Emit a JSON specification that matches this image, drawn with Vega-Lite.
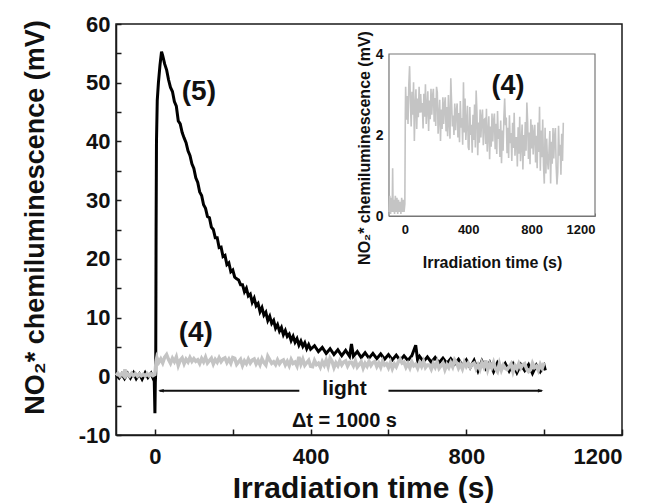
{
 "$schema": "https://vega.github.io/schema/vega-lite/v6.json",
 "width": 506,
 "height": 411,
 "autosize": {"type": "none"},
 "padding": {"left": 116, "top": 24, "right": 28, "bottom": 68},
 "background": "white",
 "config": {"view": {"stroke": "#1a1a1a", "strokeWidth": 1.5}, "font": "Liberation Sans"},
 "datasets": {
  "s5": [
   {"t": -100, "v": 0.3}, {"t": -92, "v": -0.3}, {"t": -85, "v": 0.4}, {"t": -78, "v": -0.4}, {"t": -70, "v": 0.5},
   {"t": -63, "v": -0.3}, {"t": -55, "v": 0.6}, {"t": -48, "v": -0.4}, {"t": -40, "v": 0.4}, {"t": -33, "v": -0.5},
   {"t": -25, "v": 0.6}, {"t": -18, "v": -0.2}, {"t": -10, "v": 0.5}, {"t": -5, "v": -0.3}, {"t": -2, "v": 0.2},
   {"t": 0, "v": -6.3}, {"t": 1, "v": -1}, {"t": 2, "v": 0.5}, {"t": 3, "v": 25}, {"t": 4, "v": 40},
   {"t": 6, "v": 47}, {"t": 9, "v": 50}, {"t": 13, "v": 53}, {"t": 17, "v": 55.3}, {"t": 20, "v": 54.6},
   {"t": 25, "v": 53.2}, {"t": 30, "v": 52.2}, {"t": 35, "v": 50.5}, {"t": 40, "v": 49.2}, {"t": 45, "v": 48.5},
   {"t": 50, "v": 46.8}, {"t": 55, "v": 46.0}, {"t": 60, "v": 43.5}, {"t": 65, "v": 43.0}, {"t": 70, "v": 41.5},
   {"t": 75, "v": 40.6}, {"t": 80, "v": 39.8}, {"t": 85, "v": 38.4}, {"t": 90, "v": 37.6}, {"t": 95, "v": 36.2},
   {"t": 100, "v": 35.4}, {"t": 105, "v": 33.8}, {"t": 110, "v": 33.0}, {"t": 115, "v": 31.4}, {"t": 120, "v": 30.8},
   {"t": 125, "v": 29.2}, {"t": 130, "v": 28.6}, {"t": 135, "v": 27.2}, {"t": 140, "v": 27.0}, {"t": 145, "v": 25.4},
   {"t": 150, "v": 25.0}, {"t": 155, "v": 23.6}, {"t": 160, "v": 23.6}, {"t": 165, "v": 21.9}, {"t": 170, "v": 22.0},
   {"t": 175, "v": 20.4}, {"t": 180, "v": 20.6}, {"t": 185, "v": 19.0}, {"t": 190, "v": 19.3}, {"t": 195, "v": 17.8},
   {"t": 200, "v": 18.1}, {"t": 205, "v": 16.9}, {"t": 210, "v": 16.6}, {"t": 215, "v": 16.4}, {"t": 220, "v": 15.6},
   {"t": 225, "v": 15.6}, {"t": 230, "v": 14.4}, {"t": 235, "v": 15.0}, {"t": 240, "v": 13.7}, {"t": 245, "v": 14.0},
   {"t": 250, "v": 12.6}, {"t": 255, "v": 13.3}, {"t": 260, "v": 12.0}, {"t": 265, "v": 12.4}, {"t": 270, "v": 11.0},
   {"t": 275, "v": 11.7}, {"t": 280, "v": 10.4}, {"t": 285, "v": 10.9}, {"t": 290, "v": 9.5}, {"t": 295, "v": 10.2},
   {"t": 300, "v": 9.0}, {"t": 305, "v": 9.5}, {"t": 310, "v": 8.2}, {"t": 315, "v": 8.8}, {"t": 320, "v": 7.7},
   {"t": 325, "v": 8.3}, {"t": 330, "v": 7.1}, {"t": 335, "v": 7.8}, {"t": 340, "v": 6.8}, {"t": 345, "v": 7.2},
   {"t": 350, "v": 6.1}, {"t": 355, "v": 6.8}, {"t": 360, "v": 5.8}, {"t": 365, "v": 6.4}, {"t": 370, "v": 5.3},
   {"t": 375, "v": 6.0}, {"t": 380, "v": 5.1}, {"t": 385, "v": 5.7}, {"t": 390, "v": 4.7}, {"t": 395, "v": 5.4},
   {"t": 400, "v": 4.6}, {"t": 410, "v": 5.2}, {"t": 420, "v": 4.2}, {"t": 430, "v": 4.9}, {"t": 440, "v": 3.9},
   {"t": 450, "v": 4.7}, {"t": 460, "v": 3.7}, {"t": 470, "v": 4.5}, {"t": 480, "v": 3.5}, {"t": 490, "v": 4.4},
   {"t": 500, "v": 3.4}, {"t": 505, "v": 5.5}, {"t": 510, "v": 3.4}, {"t": 520, "v": 4.2}, {"t": 530, "v": 3.2},
   {"t": 540, "v": 4.0}, {"t": 550, "v": 3.1}, {"t": 560, "v": 3.9}, {"t": 570, "v": 3.0}, {"t": 580, "v": 3.8},
   {"t": 590, "v": 2.9}, {"t": 600, "v": 3.7}, {"t": 610, "v": 2.8}, {"t": 620, "v": 3.6}, {"t": 630, "v": 2.7},
   {"t": 640, "v": 3.5}, {"t": 650, "v": 2.7}, {"t": 660, "v": 3.5}, {"t": 670, "v": 5.3}, {"t": 675, "v": 2.7},
   {"t": 680, "v": 3.4}, {"t": 690, "v": 2.5}, {"t": 700, "v": 3.3}, {"t": 710, "v": 2.4}, {"t": 720, "v": 3.2},
   {"t": 730, "v": 2.3}, {"t": 740, "v": 3.1}, {"t": 750, "v": 2.2}, {"t": 760, "v": 3.0}, {"t": 770, "v": 2.1},
   {"t": 780, "v": 2.9}, {"t": 790, "v": 1.8}, {"t": 800, "v": 2.8}, {"t": 810, "v": 1.5}, {"t": 820, "v": 2.7},
   {"t": 830, "v": 0.9}, {"t": 840, "v": 2.6}, {"t": 850, "v": 1.3}, {"t": 860, "v": 2.4}, {"t": 870, "v": 0.8},
   {"t": 880, "v": 2.3}, {"t": 890, "v": 1.2}, {"t": 900, "v": 2.2}, {"t": 910, "v": 0.9}, {"t": 920, "v": 2.1},
   {"t": 930, "v": 0.6}, {"t": 940, "v": 2.0}, {"t": 950, "v": 1.0}, {"t": 960, "v": 2.0}, {"t": 970, "v": 0.5},
   {"t": 980, "v": 1.9}, {"t": 990, "v": 0.8}, {"t": 1000, "v": 1.8}, {"t": 1003, "v": 1.0}
  ],
  "s4": [
   {"t": -100, "v": 0.1}, {"t": -95, "v": 0.5}, {"t": -90, "v": 0.05}, {"t": -85, "v": 0.45}, {"t": -80, "v": 0.1},
   {"t": -77, "v": 1.18}, {"t": -74, "v": 0.1}, {"t": -70, "v": 0.4}, {"t": -65, "v": 0.05}, {"t": -60, "v": 0.5},
   {"t": -55, "v": 0.1}, {"t": -50, "v": 0.45}, {"t": -45, "v": 0.05}, {"t": -40, "v": 0.4}, {"t": -35, "v": 0.1},
   {"t": -30, "v": 0.35}, {"t": -25, "v": 0.05}, {"t": -20, "v": 0.45}, {"t": -15, "v": 0.1}, {"t": -10, "v": 0.4},
   {"t": -5, "v": 0.1}, {"t": 0, "v": 0.3}, {"t": 3, "v": 2.5},
   {"t": 5, "v": 3.19}, {"t": 10, "v": 2.38}, {"t": 15, "v": 2.96}, {"t": 20, "v": 2.27}, {"t": 25, "v": 3.24},
   {"t": 30, "v": 3.7}, {"t": 35, "v": 2.84}, {"t": 40, "v": 2.21}, {"t": 45, "v": 3.07}, {"t": 50, "v": 2.5},
   {"t": 55, "v": 3.3}, {"t": 60, "v": 1.85}, {"t": 65, "v": 2.73}, {"t": 70, "v": 3.13}, {"t": 75, "v": 2.15},
   {"t": 80, "v": 2.9}, {"t": 85, "v": 2.44}, {"t": 90, "v": 3.19}, {"t": 95, "v": 2.55}, {"t": 100, "v": 3.01},
   {"t": 105, "v": 2.56}, {"t": 110, "v": 2.79}, {"t": 115, "v": 2.16}, {"t": 120, "v": 3.02}, {"t": 125, "v": 2.45},
   {"t": 130, "v": 3.25}, {"t": 135, "v": 2.27}, {"t": 140, "v": 2.68}, {"t": 145, "v": 3.08}, {"t": 150, "v": 2.1},
   {"t": 155, "v": 2.85}, {"t": 160, "v": 2.39}, {"t": 165, "v": 3.14}, {"t": 170, "v": 2.5}, {"t": 175, "v": 2.96},
   {"t": 180, "v": 3.14}, {"t": 185, "v": 2.33}, {"t": 190, "v": 2.91}, {"t": 195, "v": 2.22}, {"t": 200, "v": 3.19},
   {"t": 205, "v": 3.05}, {"t": 210, "v": 2.03}, {"t": 215, "v": 2.45}, {"t": 220, "v": 2.87}, {"t": 225, "v": 1.85},
   {"t": 230, "v": 2.63}, {"t": 235, "v": 2.15}, {"t": 240, "v": 2.93}, {"t": 245, "v": 2.27}, {"t": 250, "v": 2.75},
   {"t": 255, "v": 2.93}, {"t": 260, "v": 2.09}, {"t": 265, "v": 2.69}, {"t": 270, "v": 1.97}, {"t": 275, "v": 2.99},
   {"t": 280, "v": 2.33}, {"t": 285, "v": 1.91}, {"t": 290, "v": 3.4}, {"t": 295, "v": 2.81}, {"t": 300, "v": 2.21},
   {"t": 305, "v": 2.48}, {"t": 310, "v": 2.0}, {"t": 315, "v": 2.78}, {"t": 320, "v": 2.12}, {"t": 325, "v": 2.6},
   {"t": 330, "v": 2.78}, {"t": 335, "v": 1.94}, {"t": 340, "v": 2.54}, {"t": 345, "v": 1.82}, {"t": 350, "v": 2.84},
   {"t": 355, "v": 2.18}, {"t": 360, "v": 2.42}, {"t": 365, "v": 1.76}, {"t": 370, "v": 3.3}, {"t": 375, "v": 2.06},
   {"t": 380, "v": 2.9}, {"t": 385, "v": 1.88}, {"t": 390, "v": 2.3}, {"t": 395, "v": 2.72}, {"t": 400, "v": 1.7},
   {"t": 405, "v": 1.63}, {"t": 410, "v": 2.69}, {"t": 415, "v": 2.0}, {"t": 420, "v": 2.25}, {"t": 425, "v": 1.56},
   {"t": 430, "v": 2.5}, {"t": 435, "v": 1.88}, {"t": 440, "v": 2.75}, {"t": 445, "v": 1.69}, {"t": 450, "v": 3.1},
   {"t": 455, "v": 2.56}, {"t": 460, "v": 1.5}, {"t": 465, "v": 2.31}, {"t": 470, "v": 1.81}, {"t": 475, "v": 2.63},
   {"t": 480, "v": 1.94}, {"t": 485, "v": 2.44}, {"t": 490, "v": 2.63}, {"t": 495, "v": 1.75}, {"t": 500, "v": 2.38},
   {"t": 505, "v": 2.4}, {"t": 510, "v": 1.78}, {"t": 515, "v": 2.65}, {"t": 520, "v": 1.59}, {"t": 525, "v": 2.03},
   {"t": 530, "v": 2.46}, {"t": 535, "v": 1.4}, {"t": 540, "v": 2.21}, {"t": 545, "v": 1.71}, {"t": 550, "v": 2.53},
   {"t": 555, "v": 1.84}, {"t": 560, "v": 2.34}, {"t": 565, "v": 2.53}, {"t": 570, "v": 1.65}, {"t": 575, "v": 2.28},
   {"t": 580, "v": 1.53}, {"t": 585, "v": 2.59}, {"t": 590, "v": 1.9}, {"t": 595, "v": 2.15}, {"t": 600, "v": 1.46},
   {"t": 605, "v": 2.36}, {"t": 610, "v": 1.3}, {"t": 615, "v": 2.11}, {"t": 620, "v": 1.61}, {"t": 625, "v": 2.43},
   {"t": 630, "v": 2.9}, {"t": 635, "v": 2.24}, {"t": 640, "v": 2.43}, {"t": 645, "v": 1.55}, {"t": 650, "v": 2.18},
   {"t": 655, "v": 1.43}, {"t": 660, "v": 2.49}, {"t": 665, "v": 1.8}, {"t": 670, "v": 2.05}, {"t": 675, "v": 1.36},
   {"t": 680, "v": 2.3}, {"t": 685, "v": 1.68}, {"t": 690, "v": 2.55}, {"t": 695, "v": 1.49}, {"t": 700, "v": 1.93},
   {"t": 705, "v": 1.93}, {"t": 710, "v": 1.22}, {"t": 715, "v": 2.19}, {"t": 720, "v": 1.54}, {"t": 725, "v": 2.45},
   {"t": 730, "v": 1.35}, {"t": 735, "v": 1.8}, {"t": 740, "v": 2.26}, {"t": 745, "v": 1.15}, {"t": 750, "v": 2.0},
   {"t": 755, "v": 1.48}, {"t": 760, "v": 2.32}, {"t": 765, "v": 1.61}, {"t": 770, "v": 2.8}, {"t": 775, "v": 2.32},
   {"t": 780, "v": 1.41}, {"t": 785, "v": 2.06}, {"t": 790, "v": 1.28}, {"t": 795, "v": 2.39}, {"t": 800, "v": 1.67},
   {"t": 805, "v": 2.25}, {"t": 810, "v": 1.52}, {"t": 815, "v": 2.05}, {"t": 820, "v": 2.25}, {"t": 825, "v": 1.32},
   {"t": 830, "v": 1.98}, {"t": 835, "v": 1.18}, {"t": 840, "v": 2.31}, {"t": 845, "v": 1.58}, {"t": 850, "v": 2.7},
   {"t": 855, "v": 1.12}, {"t": 860, "v": 2.11}, {"t": 865, "v": 1.45}, {"t": 870, "v": 2.38}, {"t": 875, "v": 1.25},
   {"t": 880, "v": 0.8}, {"t": 885, "v": 2.18}, {"t": 890, "v": 1.05}, {"t": 895, "v": 1.91}, {"t": 900, "v": 1.38},
   {"t": 905, "v": 1.15}, {"t": 910, "v": 1.63}, {"t": 915, "v": 2.1}, {"t": 920, "v": 0.8}, {"t": 925, "v": 1.83},
   {"t": 930, "v": 1.29}, {"t": 935, "v": 2.17}, {"t": 940, "v": 1.42}, {"t": 945, "v": 1.96}, {"t": 950, "v": 2.17},
   {"t": 955, "v": 1.22}, {"t": 960, "v": 0.78}, {"t": 965, "v": 1.09}, {"t": 970, "v": 2.23}, {"t": 975, "v": 1.49},
   {"t": 980, "v": 1.76}, {"t": 985, "v": 1.02}, {"t": 990, "v": 2.03}, {"t": 995, "v": 1.36}, {"t": 1000, "v": 2.3}
  ]
 },
 "layer": [
  {
   "encoding": {
    "x": {
     "field": "t", "type": "quantitative",
     "scale": {"domain": [-100, 1200], "nice": false, "zero": false},
     "axis": {
      "orient": "bottom", "values": [0, 200, 400, 600, 800, 1000, 1200],
      "labelExpr": "datum.value % 400 === 0 ? '' + datum.value : ''",
      "labelOverlap": false, "grid": false,
      "tickSize": -6, "tickWidth": 1.5, "tickColor": "#1a1a1a",
      "domainColor": "#1a1a1a", "domainWidth": 1.5,
      "labelFont": "Liberation Sans", "labelFontWeight": "bold", "labelFontSize": 22, "labelColor": "#111",
      "labelPadding": 17,
      "title": "Irradiation time (s)", "titleFont": "Liberation Sans", "titleFontSize": 30, "titleFontWeight": "bold",
      "titleColor": "#111", "titleX": 247, "titleY": 62, "titleBaseline": "alphabetic"
     }
    },
    "y": {
     "field": "v", "type": "quantitative",
     "scale": {"domain": [-10, 60], "nice": false, "zero": false},
     "axis": {
      "orient": "left", "values": [-10, -5, 0, 5, 10, 15, 20, 25, 30, 35, 40, 45, 50, 55, 60],
      "labelExpr": "datum.value % 10 === 0 ? '' + datum.value : ''",
      "labelOverlap": false, "grid": false,
      "tickSize": -5, "tickWidth": 1.5, "tickColor": "#1a1a1a",
      "domainColor": "#1a1a1a", "domainWidth": 1.5,
      "labelFont": "Liberation Sans", "labelFontWeight": "bold", "labelFontSize": 22, "labelColor": "#111",
      "labelPadding": 11,
      "title": "NO₂* chemiluminescence (mV)", "titleFont": "Liberation Sans", "titleFontSize": 27,
      "titleFontWeight": "bold", "titleColor": "#111", "titleAngle": 270, "titleX": -73, "titleY": 193,
      "titleBaseline": "alphabetic", "titleAlign": "center"
     }
    }
   },
   "layer": [
    {"data": {"name": "s5"}, "mark": {"type": "line", "color": "#000000", "strokeWidth": 3}},
    {"data": {"name": "s4"}, "mark": {"type": "line", "color": "#c4c4c4", "strokeWidth": 3.5}},
    {
     "data": {"values": [{"t": 113, "v": 48.5, "label": "(5)"}, {"t": 105, "v": 7.45, "label": "(4)"}]},
     "mark": {"type": "text", "font": "Liberation Sans", "fontWeight": "bold", "fontSize": 28, "color": "#111", "baseline": "middle", "align": "center"},
     "encoding": {"text": {"field": "label"}}
    },
    {
     "data": {"values": [{"t": 487, "v": -2.2, "label": "light"}]},
     "mark": {"type": "text", "font": "Liberation Sans", "fontWeight": "bold", "fontSize": 21, "color": "#111", "baseline": "middle", "align": "center"},
     "encoding": {"text": {"field": "label"}}
    },
    {
     "data": {"values": [{"t": 487, "v": -7.7, "label": "Δt = 1000 s"}]},
     "mark": {"type": "text", "font": "Liberation Sans", "fontWeight": "bold", "fontSize": 20, "color": "#111", "baseline": "middle", "align": "center"},
     "encoding": {"text": {"field": "label"}}
    },
    {
     "data": {"values": [{"t": 12, "t2": 371, "v": -2.46}, {"t": 600, "t2": 994, "v": -2.46}]},
     "mark": {"type": "rule", "color": "#111", "strokeWidth": 2},
     "encoding": {"x2": {"field": "t2"}}
    },
    {
     "data": {"values": [{"t": 8.5, "v": -2.46}]},
     "mark": {"type": "point", "shape": "M0,0L2.2,-0.7L2.2,0.7Z", "filled": true, "color": "#111", "size": 25, "opacity": 1}
    },
    {
     "data": {"values": [{"t": 998, "v": -2.46}]},
     "mark": {"type": "point", "shape": "M0,0L-2.2,-0.7L-2.2,0.7Z", "filled": true, "color": "#111", "size": 25, "opacity": 1}
    }
   ]
  },
  {
   "encoding": {
    "x": {
     "field": "t", "type": "quantitative",
     "scale": {"domain": [-100, 1200], "nice": false, "zero": false, "range": [273, 479]},
     "axis": {
      "orient": "bottom", "offset": -219, "values": [0, 200, 400, 600, 800, 1000, 1200],
      "labelExpr": "datum.value % 400 === 0 ? '' + datum.value : ''",
      "labelOverlap": false, "grid": false,
      "tickSize": -3, "tickWidth": 1, "tickColor": "#777",
      "domainColor": "#777", "domainWidth": 1.2,
      "labelFont": "Liberation Sans", "labelFontWeight": "bold", "labelFontSize": 13, "labelColor": "#111",
      "labelPadding": 10,
      "title": "Irradiation time (s)", "titleFont": "Liberation Sans", "titleFontSize": 16, "titleFontWeight": "bold",
      "titleColor": "#111", "titleY": 51, "titleBaseline": "alphabetic"
     }
    },
    "y": {
     "field": "v", "type": "quantitative",
     "scale": {"domain": [0, 4], "nice": false, "zero": false, "range": [192, 30]},
     "axis": {
      "orient": "left", "offset": -273, "values": [0, 1, 2, 3, 4],
      "labelExpr": "datum.value % 2 === 0 ? '' + datum.value : ''",
      "labelOverlap": false, "grid": false,
      "tickSize": -3, "tickWidth": 1, "tickColor": "#777",
      "domainColor": "#777", "domainWidth": 1.2,
      "labelFont": "Liberation Sans", "labelFontWeight": "bold", "labelFontSize": 14, "labelColor": "#111",
      "labelPadding": 9,
      "title": "NO₂* chemiluminescence (mV)", "titleFont": "Liberation Sans", "titleFontSize": 16,
      "titleFontWeight": "bold", "titleColor": "#111", "titleAngle": 270, "titleX": -20, "titleY": 123.5,
      "titleBaseline": "alphabetic", "titleAlign": "center"
     }
    }
   },
   "layer": [
    {
     "data": {"values": [{"t": -100, "t2": 1200, "v": 0, "v2": 4}]},
     "mark": {"type": "rect", "fill": "white", "stroke": "#777", "strokeWidth": 1.2},
     "encoding": {"x2": {"field": "t2"}, "y2": {"field": "v2"}}
    },
    {"data": {"name": "s4"}, "mark": {"type": "line", "color": "#c4c4c4", "strokeWidth": 1.6}},
    {
     "data": {"values": [{"t": 651, "v": 3.2, "label": "(4)"}]},
     "mark": {"type": "text", "font": "Liberation Sans", "fontWeight": "bold", "fontSize": 27, "color": "#111", "baseline": "middle", "align": "center"},
     "encoding": {"text": {"field": "label"}}
    }
   ]
  }
 ],
 "resolve": {"scale": {"x": "independent", "y": "independent"}, "axis": {"x": "independent", "y": "independent"}}
}
